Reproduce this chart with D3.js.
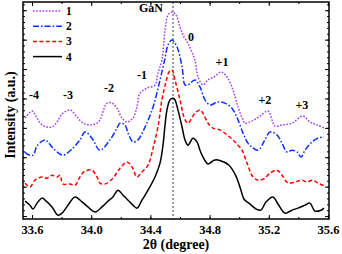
<!DOCTYPE html>
<html lang="en">
<head>
    <meta charset="UTF-8">
    <title>GaN rocking scan</title>
    <script src="https://cdn.jsdelivr.net/npm/d3@7.8.5/dist/d3.min.js"></script>
    <style>
        body { margin: 0; background: #fff; }
        svg text { font-family: "Liberation Serif", "Times New Roman", serif; font-weight: bold; }
    </style>
</head>
<body>
    <div id="chart"></div>
    <script>
        // 2θ (degree), intensity (a.u.) pairs
        const series1 = [[33.553,3.33],[33.600,3.57],[33.634,3.33],[33.668,3.10],[33.701,3.03],[33.735,3.03],[33.769,3.20],[33.803,3.47],[33.857,3.61],[33.904,3.37],[33.945,3.16],[33.992,3.10],[34.039,3.16],[34.059,3.27],[34.107,3.84],[34.141,3.84],[34.174,3.67],[34.208,3.33],[34.242,3.20],[34.282,3.33],[34.309,3.71],[34.330,4.18],[34.377,4.35],[34.431,4.46],[34.451,4.86],[34.478,5.31],[34.499,6.33],[34.519,6.84],[34.546,6.94],[34.573,6.84],[34.600,6.43],[34.627,6.09],[34.654,5.88],[34.674,5.65],[34.701,5.31],[34.722,4.73],[34.755,4.46],[34.789,4.63],[34.830,4.73],[34.877,4.90],[34.918,4.73],[34.958,4.29],[34.992,3.71],[35.026,3.27],[35.039,3.16],[35.086,3.23],[35.141,3.40],[35.195,3.57],[35.242,3.06],[35.289,3.10],[35.357,3.16],[35.431,3.40],[35.478,3.20],[35.526,3.10],[35.580,2.99]];
        const series2 = [[33.553,2.18],[33.566,2.11],[33.607,2.07],[33.634,2.38],[33.688,2.59],[33.742,2.31],[33.809,2.07],[33.870,2.28],[33.924,2.59],[33.958,2.86],[34.005,2.65],[34.059,2.24],[34.127,2.59],[34.174,2.99],[34.195,3.16],[34.228,3.10],[34.249,2.82],[34.282,2.52],[34.316,2.59],[34.364,3.03],[34.418,3.71],[34.465,4.63],[34.499,5.37],[34.519,5.82],[34.546,5.99],[34.580,5.75],[34.614,5.07],[34.634,4.46],[34.654,4.46],[34.701,4.63],[34.735,4.39],[34.769,3.95],[34.803,3.78],[34.857,3.88],[34.904,3.84],[34.951,3.67],[34.992,3.27],[35.026,2.82],[35.059,2.48],[35.086,2.35],[35.127,2.24],[35.174,2.59],[35.208,2.86],[35.255,2.76],[35.289,2.48],[35.323,2.18],[35.357,2.24],[35.391,2.18],[35.418,2.01],[35.445,2.24],[35.492,2.52],[35.532,2.65],[35.573,2.69]];
        const series3 = [[33.553,1.12],[33.586,0.99],[33.620,1.22],[33.668,1.33],[33.701,1.29],[33.735,1.39],[33.769,1.33],[33.789,1.39],[33.809,1.09],[33.857,1.09],[33.891,1.05],[33.924,1.33],[33.958,1.53],[34.005,1.56],[34.039,1.33],[34.059,1.12],[34.093,1.09],[34.147,1.29],[34.195,1.63],[34.242,1.84],[34.276,1.67],[34.309,1.33],[34.343,1.50],[34.384,1.73],[34.418,2.31],[34.451,3.03],[34.478,3.95],[34.505,4.56],[34.526,4.90],[34.546,4.97],[34.566,4.63],[34.600,3.95],[34.634,3.27],[34.654,3.16],[34.701,3.50],[34.735,3.61],[34.755,3.50],[34.789,3.16],[34.823,2.99],[34.870,2.93],[34.918,2.76],[34.958,2.59],[34.992,2.41],[35.019,2.24],[35.053,1.80],[35.093,1.33],[35.127,1.22],[35.174,1.29],[35.208,1.46],[35.255,1.56],[35.289,1.39],[35.330,1.12],[35.377,1.16],[35.424,1.22],[35.458,1.16],[35.499,1.22],[35.532,1.12],[35.580,1.02]];
        const series4 = [[33.553,0.51],[33.586,0.37],[33.607,0.24],[33.634,0.44],[33.668,0.61],[33.688,0.54],[33.735,0.31],[33.776,0.03],[33.803,0.10],[33.843,0.37],[33.891,0.65],[33.938,0.48],[33.978,0.31],[34.026,0.14],[34.073,0.31],[34.107,0.48],[34.147,0.65],[34.181,0.88],[34.215,0.71],[34.249,0.54],[34.282,0.37],[34.309,0.27],[34.343,0.54],[34.384,0.88],[34.431,1.33],[34.465,1.80],[34.485,2.41],[34.499,3.10],[34.512,3.61],[34.532,3.95],[34.553,4.01],[34.566,3.95],[34.586,3.61],[34.614,3.03],[34.634,2.59],[34.654,2.41],[34.688,2.65],[34.715,2.52],[34.735,2.24],[34.755,2.01],[34.789,1.77],[34.830,1.90],[34.864,1.90],[34.931,1.73],[34.978,1.36],[35.012,0.88],[35.032,0.58],[35.066,0.44],[35.114,0.24],[35.147,0.20],[35.181,0.48],[35.228,0.65],[35.262,0.41],[35.309,0.10],[35.357,0.20],[35.397,0.27],[35.445,0.37],[35.478,0.44],[35.512,0.17],[35.553,0.20],[35.573,0.27]];

        const seriesNames = ['1', '2', '3', '4'];
        const xTicks = [33.6, 34.0, 34.4, 34.8, 35.2, 35.6];
        const peakPos = 34.553;
        // order labels: text, 2θ, intensity (baseline)
        const orderLabels = [['-4',33.614,3.98],['-3',33.843,3.98],['-2',34.120,4.22],['-1',34.343,4.66],['0',34.674,5.95],['+1',34.884,5.10],['+2',35.174,3.81],['+3',35.424,3.64]];

        const width = 342, height = 254;
        const margin = { top: 2, right: 13, bottom: 35, left: 23 };

        const svg = d3.select('#chart').append('svg')
            .attr('width', width)
            .attr('height', height);

        const x = d3.scaleLinear().domain([33.539, 35.607]).range([margin.left, width - margin.right]);
        const y = d3.scaleLinear().domain([-0.1, 7.28]).range([height - margin.bottom, margin.top]);

        const colors = ['#a23cf5', '#0a32f5', '#ff0000', '#000000'];
        const dashes = ['1.6,1.6', '6,2,1.6,2', '4,2.4', null];
        const all = [series1, series2, series3, series4];

        svg.append('clipPath').attr('id', 'clip')
            .append('rect')
            .attr('x', margin.left).attr('y', margin.top)
            .attr('width', width - margin.left - margin.right)
            .attr('height', height - margin.top - margin.bottom);

        // peak position marker
        svg.append('line')
            .attr('x1', x(peakPos)).attr('x2', x(peakPos))
            .attr('y1', margin.top).attr('y2', height - margin.bottom)
            .attr('stroke', '#444').attr('stroke-width', 1)
            .attr('stroke-dasharray', '2,2');

        const line = d3.line()
            .x(d => x(d[0]))
            .y(d => y(d[1]))
            .curve(d3.curveCatmullRom.alpha(0.5));

        all.forEach((s, i) => {
            svg.append('path')
                .attr('clip-path', 'url(#clip)')
                .attr('d', line(s))
                .attr('fill', 'none')
                .attr('stroke', colors[i])
                .attr('stroke-width', 1.5)
                .attr('stroke-dasharray', dashes[i]);
        });

        // axes, ticks pointing inward
        const bottom = height - margin.bottom;
        const right = width - margin.right;
        const xMinor = d3.range(33.6, 35.61, 0.2);
        const yMajor = d3.range(0, 7.01, 1);
        const yMinor = d3.range(0, 7.21, 0.2);

        svg.append('g').attr('transform', `translate(0,${bottom})`)
            .call(d3.axisBottom(x).tickValues(xMinor).tickSize(-2).tickFormat(''));
        svg.append('g').attr('transform', `translate(0,${bottom})`)
            .call(d3.axisBottom(x).tickValues(xTicks).tickSize(-4).tickPadding(6).tickFormat(d3.format('.1f')))
            .selectAll('text').attr('font-size', 12.5).attr('fill', '#000');
        svg.append('g').attr('transform', `translate(0,${margin.top})`)
            .call(d3.axisTop(x).tickValues(xMinor).tickSize(-2).tickFormat(''));
        svg.append('g').attr('transform', `translate(0,${margin.top})`)
            .call(d3.axisTop(x).tickValues(xTicks).tickSize(-4).tickFormat(''));
        svg.append('g').attr('transform', `translate(${margin.left},0)`)
            .call(d3.axisLeft(y).tickValues(yMinor).tickSize(-2).tickFormat(''));
        svg.append('g').attr('transform', `translate(${margin.left},0)`)
            .call(d3.axisLeft(y).tickValues(yMajor).tickSize(-4).tickFormat(''));
        svg.append('g').attr('transform', `translate(${right},0)`)
            .call(d3.axisRight(y).tickValues(yMinor).tickSize(-2).tickFormat(''));
        svg.append('g').attr('transform', `translate(${right},0)`)
            .call(d3.axisRight(y).tickValues(yMajor).tickSize(-4).tickFormat(''));

        svg.selectAll('.domain').remove();
        svg.selectAll('.tick line').attr('stroke', '#000').attr('stroke-width', 1);

        svg.append('rect')
            .attr('x', margin.left).attr('y', margin.top)
            .attr('width', right - margin.left).attr('height', bottom - margin.top)
            .attr('fill', 'none').attr('stroke', '#000').attr('stroke-width', 1.5);

        // axis titles
        svg.append('text')
            .attr('x', (margin.left + right) / 2).attr('y', 249)
            .attr('text-anchor', 'middle').attr('font-size', 14)
            .text('2θ (degree)');
        svg.append('text')
            .attr('transform', 'translate(15,115) rotate(-90)')
            .attr('text-anchor', 'middle').attr('font-size', 14)
            .text('Intensity (a.u.)');

        // legend
        const legend = svg.append('g');
        seriesNames.forEach((name, i) => {
            const ly = 11 + i * 15.2;
            legend.append('line')
                .attr('x1', 33).attr('x2', 62).attr('y1', ly).attr('y2', ly)
                .attr('stroke', colors[i]).attr('stroke-width', 1.5)
                .attr('stroke-dasharray', dashes[i]);
            legend.append('text')
                .attr('x', 66).attr('y', ly + 4)
                .attr('font-size', 11.5)
                .text(name);
        });

        // annotations
        svg.append('text')
            .attr('x', x(34.404)).attr('y', y(6.94))
            .attr('text-anchor', 'middle').attr('font-size', 12)
            .text('GaN');
        svg.selectAll('.order').data(orderLabels).enter().append('text')
            .attr('class', 'order')
            .attr('x', d => x(d[1])).attr('y', d => y(d[2]))
            .attr('text-anchor', 'middle').attr('font-size', 12)
            .text(d => d[0]);
    </script>
</body>
</html>
